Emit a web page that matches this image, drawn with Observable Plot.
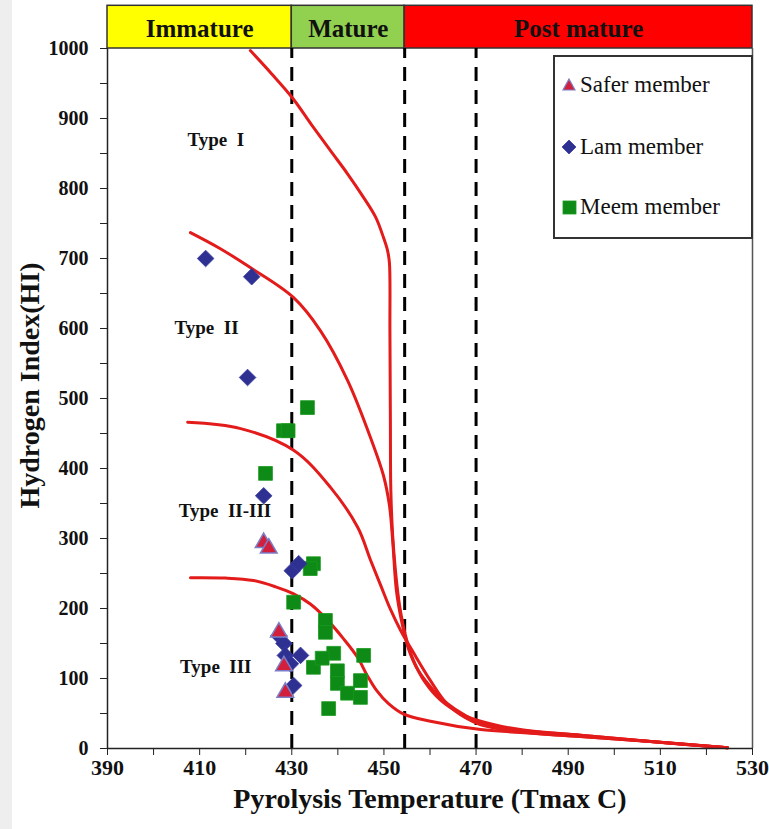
<!DOCTYPE html>
<html>
<head>
<meta charset="utf-8">
<script src="https://cdn.jsdelivr.net/npm/d3@7"></script>
<script src="https://cdn.jsdelivr.net/npm/@observablehq/plot@0.6"></script>
<style>
  body { margin: 0; background: #ffffff; }
  #wrap { position: relative; width: 769px; height: 829px; overflow: hidden; background: #fff; }
  #strip { position: absolute; left: 0; top: 0; width: 12px; height: 829px; background: #eeeeee; }
  #legend { position: absolute; left: 553px; top: 55px; width: 196px; height: 180px; border: 2px solid #333; background: #fff;
            font-family: "Liberation Serif", "Times New Roman", "DejaVu Serif", serif; font-size: 23px; color: #111; }
  .item { position: absolute; left: 6px; display: flex; align-items: center; line-height: 1; }
  .item svg { margin-right: 3px; }
</style>
</head>
<body>
<div id="wrap">
  <div id="chart"></div>
  <div id="strip"></div>
  <div id="legend"></div>
</div>
<script>
// ---- data ----
const stageNames = ["Immature", "Mature", "Post mature"];
const stageStart = [390, 430, 454.5];
const stageEnd = [430, 454.5, 530];
const stageColors = ["#ffff00", "#92d050", "#ff0000"];

const dashedTmax = [430, 454.5, 470];

const typeNames = ["Type  I", "Type  II", "Type  II-III", "Type  III"];
const typeLabelT = [413.5, 411.5, 415.5, 413.5];
const typeLabelHI = [870, 601, 340, 117];

const typeI_T  = [421.0, 425.6, 430.2, 434.3, 438.4, 442.1, 445.6, 448.2, 449.9, 450.8, 451.2, 451.3, 451.4, 451.5, 451.9, 452.5, 453.4, 454.7, 456.4, 459.0, 462.3, 466.6, 471.0, 479.6, 492.7, 507.9, 524.6];
const typeI_HI = [997, 964, 929, 891, 854, 821, 787, 759, 730, 711, 693, 597, 469, 369, 304, 254, 204, 161, 126, 94, 69, 50, 39, 27, 19, 10, 1];

const typeII_T  = [408.0, 414.5, 421.0, 430.4, 436.2, 442.1, 447.1, 449.9, 451.2, 451.9, 452.7, 453.8, 455.3, 457.5, 460.8, 463.8, 467.7, 471.0, 479.6, 492.7, 507.9, 524.6];
const typeII_HI = [737, 714, 687, 644, 597, 526, 444, 390, 347, 297, 226, 183, 143, 111, 83, 64, 47, 37, 26, 19, 10, 1];

const typeIIIII_T  = [407.4, 418.9, 430.4, 438.4, 444.3, 447.1, 449.3, 451.4, 453.6, 456.4, 460.1, 463.8, 467.7, 471.0, 479.6, 492.7, 507.9, 524.6];
const typeIIIII_HI = [466, 457, 426, 373, 316, 269, 233, 199, 169, 137, 97, 63, 44, 34, 24, 17, 10, 1];

const typeIII_T  = [408.0, 415.6, 421.7, 426.5, 430.4, 434.1, 437.8, 441.2, 444.3, 446.4, 448.4, 451.0, 454.3, 460.1, 471.0, 479.6, 492.7, 507.9, 524.6];
const typeIII_HI = [244, 243.5, 240, 231, 221, 206, 183, 157, 130, 104, 83, 64, 49, 39, 27, 23, 17, 10, 1];

const saferT  = [423.9, 425.0, 427.2, 428.3, 428.6];
const saferHI = [294, 286, 166, 118, 80];

const lamT  = [411.3, 421.3, 420.4, 423.9, 430.1, 431.5, 427.2, 428.3, 428.6, 431.9, 429.7, 430.4];
const lamHI = [700, 674, 530, 361, 254, 264, 161, 150, 133, 133, 121, 90];

const meemT  = [433.4, 428.2, 429.2, 424.3, 434.7, 434.0, 430.4, 437.3, 437.3, 439.1, 445.6, 434.7, 436.6, 439.9, 439.9, 442.1, 444.9, 444.9, 438.0];
const meemHI = [487, 454, 454, 393, 264, 257, 209, 183, 166, 136, 133, 116, 129, 111, 93, 79, 97, 73, 57];

const xTickLabels = [390, 410, 430, 450, 470, 490, 510, 530];
const yTickLabels = [0, 100, 200, 300, 400, 500, 600, 700, 800, 900, 1000];

// ---- tables ----
const stages = stageNames.map((n, i) => ({name: n, x1: stageStart[i], x2: stageEnd[i], color: stageColors[i]}));
const curves = [
  [typeI_T, typeI_HI, "I"], [typeII_T, typeII_HI, "II"], [typeIIIII_T, typeIIIII_HI, "II-III"], [typeIII_T, typeIII_HI, "III"]
].flatMap(([xs, ys, k]) => xs.map((x, i) => ({t: x, hi: ys[i], k})));
const labels = typeNames.map((n, i) => ({n, t: typeLabelT[i], hi: typeLabelHI[i]}));
const safer = saferT.map((t, i) => ({t, hi: saferHI[i]}));
const lam = lamT.map((t, i) => ({t, hi: lamHI[i]}));
const meem = meemT.map((t, i) => ({t, hi: meemHI[i]}));

const serif = "Liberation Serif, Times New Roman, serif";
const bandTop = 1061;

const chart = Plot.plot({
  width: 769, height: 829,
  marginLeft: 107, marginRight: 17, marginTop: 48, marginBottom: 81,
  style: {fontFamily: serif, background: "transparent", color: "#111", overflow: "visible"},
  x: {domain: [390, 530], label: null},
  y: {domain: [0, 1000], label: null},
  marks: [
    // maturity band above the frame
    Plot.rect(stages, {x1: "x1", x2: "x2", y1: 1000, y2: bandTop, fill: "color", stroke: "#333", strokeWidth: 1.5}),
    Plot.text(stages, {x: d => (d.x1 + d.x2) / 2, y: (1000 + bandTop) / 2, text: "name", fontSize: 25, fontWeight: "bold", fill: "#111", dy: 2}),
    // frame line
    Plot.ruleX([530], {y1: 0, y2: 1000, stroke: "#555", strokeWidth: 1.5}),
    // dashed maturity limits
    Plot.ruleX(dashedTmax, {y1: 0, y2: 1000, stroke: "#000", strokeWidth: 3, strokeDasharray: "14,9"}),
    // kerogen type curves
    Plot.line(curves, {x: "t", y: "hi", z: "k", stroke: "#e31b1b", strokeWidth: 3, curve: "catmull-rom"}),
    // type labels
    Plot.text(labels, {x: "t", y: "hi", text: "n", fontSize: 19, fontWeight: "bold", fill: "#111"}),
    // data
    Plot.dot(meem, {x: "t", y: "hi", symbol: "square", r: 7.8, fill: "#0e8a16", stroke: "#1a9a20", strokeWidth: 0.8}),
    Plot.dot(lam, {x: "t", y: "hi", symbol: "diamond2", r: 7.5, fill: "#2e3192", stroke: "#3a3da0", strokeWidth: 0.8}),
    Plot.dot(safer, {x: "t", y: "hi", symbol: "triangle", r: 6.2, fill: "#d21f3c", stroke: "#7a7fc8", strokeWidth: 1.5}),
    // axes
    Plot.axisY(yTickLabels, {tickSize: 7, tickPadding: 12, tickFormat: "d", fontSize: 20, fontWeight: "bold", stroke: "#222"}),
    Plot.axisY(yTickLabels.slice(0, -1).map(v => v + 50), {tickSize: 7, tickFormat: () => "", stroke: "#222"}),
    Plot.axisX(xTickLabels, {tickSize: 7, tickPadding: 4, tickFormat: "d", fontSize: 22, fontWeight: "bold", stroke: "#222"}),
    Plot.axisX(xTickLabels.slice(0, -1).map(v => v + 10), {tickSize: 7, tickFormat: () => "", stroke: "#222"}),
    Plot.ruleX([390], {y1: 0, y2: 1000, stroke: "#222", strokeWidth: 1.5}),
    Plot.ruleY([0], {stroke: "#222", strokeWidth: 1.5}),
    // axis titles
    Plot.text(["Pyrolysis Temperature (Tmax C)"], {frameAnchor: "bottom", dy: 59, fontSize: 28, fontWeight: "bold", fill: "#111"}),
    Plot.text(["Hydrogen Index(HI)"], {frameAnchor: "left", textAnchor: "middle", dx: -77, dy: -13, rotate: -90, fontSize: 28, fontWeight: "bold", fill: "#111"})
  ]
});
document.getElementById("chart").appendChild(chart);

// ---- legend (HTML) ----
const legendItems = [
  {label: "Safer member", sym: "triangle", fill: "#d21f3c", stroke: "#7a7fc8", top: 16},
  {label: "Lam member", sym: "diamond", fill: "#2e3192", stroke: "#3a3da0", top: 78},
  {label: "Meem member", sym: "square", fill: "#0e8a16", stroke: "#1a9a20", top: 138}
];
const legend = document.getElementById("legend");
for (const it of legendItems) {
  const div = document.createElement("div");
  div.className = "item";
  div.style.top = it.top + "px";
  let shape;
  if (it.sym === "triangle") shape = `<polygon points="8,2 14,13 2,13" fill="${it.fill}" stroke="${it.stroke}" stroke-width="1.2"/>`;
  else if (it.sym === "diamond") shape = `<polygon points="8,1 15,8 8,15 1,8" fill="${it.fill}" stroke="${it.stroke}" stroke-width="0.8"/>`;
  else shape = `<rect x="2" y="2" width="13" height="13" fill="${it.fill}" stroke="${it.stroke}" stroke-width="0.8"/>`;
  div.innerHTML = `<svg width="16" height="16">${shape}</svg><span>${it.label}</span>`;
  legend.appendChild(div);
}
</script>
</body>
</html>
